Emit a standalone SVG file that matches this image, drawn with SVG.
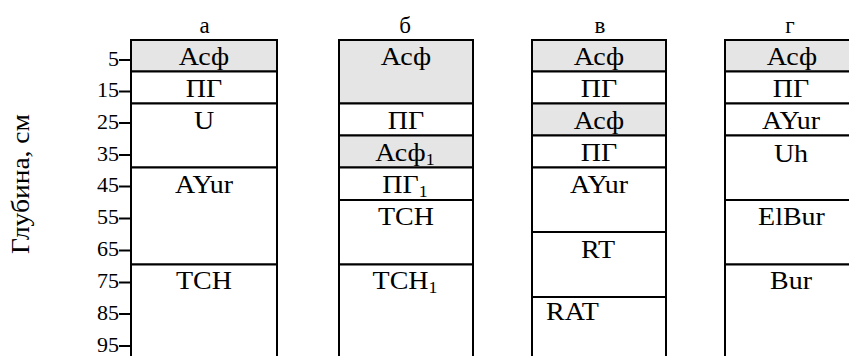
<svg xmlns="http://www.w3.org/2000/svg" width="849" height="356" viewBox="0 0 849 356">
<style>
.cell{stroke:#000;stroke-width:2;fill:#fff}
.sh{fill:#e5e5e5}
.t{font-family:"Liberation Serif","Times New Roman",serif;font-size:25px;fill:#000;text-anchor:middle}
.ts{text-anchor:start}
.hd{font-size:23px}
.num{font-family:"Liberation Serif","Times New Roman",serif;font-size:22px;fill:#000;text-anchor:end}
.tick{stroke:#000;stroke-width:2}
.sub{font-size:16px}
</style>
<rect width="849" height="356" fill="#fff"/>
<g id="axis">
<g transform="translate(29,184) rotate(-90) scale(1.1,1)"><text class="t" x="0" y="0">Глубина, см</text></g>
<g id="ticks">
<line class="tick" x1="119" y1="60" x2="131" y2="60"/>
<line class="tick" x1="119" y1="91.5" x2="131" y2="91.5"/>
<line class="tick" x1="119" y1="123" x2="131" y2="123"/>
<line class="tick" x1="119" y1="155" x2="131" y2="155"/>
<line class="tick" x1="119" y1="186.5" x2="131" y2="186.5"/>
<line class="tick" x1="119" y1="218.5" x2="131" y2="218.5"/>
<line class="tick" x1="119" y1="250.5" x2="131" y2="250.5"/>
<line class="tick" x1="119" y1="282.5" x2="131" y2="282.5"/>
<line class="tick" x1="119" y1="314" x2="131" y2="314"/>
<line class="tick" x1="119" y1="346" x2="131" y2="346"/>
</g>
<text class="num" x="119" y="65.5">5</text>
<text class="num" x="119" y="97">15</text>
<text class="num" x="119" y="128.5">25</text>
<text class="num" x="119" y="160.5">35</text>
<text class="num" x="119" y="192">45</text>
<text class="num" x="119" y="224">55</text>
<text class="num" x="119" y="256">65</text>
<text class="num" x="119" y="288">75</text>
<text class="num" x="119" y="319.5">85</text>
<text class="num" x="119" y="351.5">95</text>
</g>
<g id="col-a">
<text class="t hd" x="204.5" y="33">а</text>
<g id="a1"><rect class="cell sh" x="131" y="40" width="146" height="31.5"/><g transform="translate(204,64.5) scale(1.12,1)"><text class="t" x="0" y="0">Асф</text></g></g>
<g id="a2"><rect class="cell" x="131" y="71.5" width="146" height="32"/><g transform="translate(204,96.5) scale(1.12,1)"><text class="t" x="0" y="0">ПГ</text></g></g>
<g id="a3"><rect class="cell" x="131" y="103.5" width="146" height="64"/><g transform="translate(204,129) scale(1.12,1)"><text class="t" x="0" y="0">U</text></g></g>
<g id="a4"><rect class="cell" x="131" y="167.5" width="146" height="97"/><g transform="translate(204,193) scale(1.12,1)"><text class="t" x="0" y="0">AYur</text></g></g>
<g id="a5"><rect class="cell" x="131" y="264.5" width="146" height="100"/><g transform="translate(204,288.5) scale(1.12,1)"><text class="t" x="0" y="0">TCH</text></g></g>
</g>
<g id="col-b">
<text class="t hd" x="405" y="33">б</text>
<g id="b1"><rect class="cell sh" x="339" y="40" width="134" height="63.5"/><g transform="translate(406,64.5) scale(1.12,1)"><text class="t" x="0" y="0">Асф</text></g></g>
<g id="b2"><rect class="cell" x="339" y="103.5" width="134" height="32"/><g transform="translate(406,128.5) scale(1.12,1)"><text class="t" x="0" y="0">ПГ</text></g></g>
<g id="b3"><rect class="cell sh" x="339" y="135.5" width="134" height="32"/><g transform="translate(405,160.5) scale(1.12,1)"><text class="t" x="0" y="0">Асф<tspan class="sub" dy="4">1</tspan></text></g></g>
<g id="b4"><rect class="cell" x="339" y="167.5" width="134" height="32.5"/><g transform="translate(405,192.5) scale(1.12,1)"><text class="t" x="0" y="0">ПГ<tspan class="sub" dy="4">1</tspan></text></g></g>
<g id="b5"><rect class="cell" x="339" y="200" width="134" height="64.5"/><g transform="translate(406,225) scale(1.12,1)"><text class="t" x="0" y="0">TCH</text></g></g>
<g id="b6"><rect class="cell" x="339" y="264.5" width="134" height="100"/><g transform="translate(405,289) scale(1.12,1)"><text class="t" x="0" y="0">TCH<tspan class="sub" dy="4">1</tspan></text></g></g>
</g>
<g id="col-v">
<text class="t hd" x="600" y="33">в</text>
<g id="v1"><rect class="cell sh" x="532" y="40" width="134" height="31.5"/><g transform="translate(599,64.5) scale(1.12,1)"><text class="t" x="0" y="0">Асф</text></g></g>
<g id="v2"><rect class="cell" x="532" y="71.5" width="134" height="32"/><g transform="translate(599,96.5) scale(1.12,1)"><text class="t" x="0" y="0">ПГ</text></g></g>
<g id="v3"><rect class="cell sh" x="532" y="103.5" width="134" height="32"/><g transform="translate(599,128.5) scale(1.12,1)"><text class="t" x="0" y="0">Асф</text></g></g>
<g id="v4"><rect class="cell" x="532" y="135.5" width="134" height="32"/><g transform="translate(599,160.5) scale(1.12,1)"><text class="t" x="0" y="0">ПГ</text></g></g>
<g id="v5"><rect class="cell" x="532" y="167.5" width="134" height="64.5"/><g transform="translate(599,193) scale(1.12,1)"><text class="t" x="0" y="0">AYur</text></g></g>
<g id="v6"><rect class="cell" x="532" y="232" width="134" height="65"/><g transform="translate(598,257.5) scale(1.12,1)"><text class="t" x="0" y="0">RT</text></g></g>
<g id="v7"><rect class="cell" x="532" y="297" width="134" height="70"/><g transform="translate(546,319.5) scale(1.12,1)"><text class="t ts" x="0" y="0">RAT</text></g></g>
</g>
<g id="col-g">
<text class="t hd" x="790" y="33">г</text>
<g id="g1"><rect class="cell sh" x="725" y="40" width="134" height="31.5"/><g transform="translate(792,64.5) scale(1.12,1)"><text class="t" x="0" y="0">Асф</text></g></g>
<g id="g2"><rect class="cell" x="725" y="71.5" width="134" height="32"/><g transform="translate(791,96.5) scale(1.12,1)"><text class="t" x="0" y="0">ПГ</text></g></g>
<g id="g3"><rect class="cell" x="725" y="103.5" width="134" height="32"/><g transform="translate(791,128.5) scale(1.12,1)"><text class="t" x="0" y="0">AYur</text></g></g>
<g id="g4"><rect class="cell" x="725" y="135.5" width="134" height="64.5"/><g transform="translate(791,161.5) scale(1.12,1)"><text class="t" x="0" y="0">Uh</text></g></g>
<g id="g5"><rect class="cell" x="725" y="200" width="134" height="64.5"/><g transform="translate(791.5,225) scale(1.12,1)"><text class="t" x="0" y="0">ElBur</text></g></g>
<g id="g6"><rect class="cell" x="725" y="264.5" width="134" height="100"/><g transform="translate(791,289) scale(1.12,1)"><text class="t" x="0" y="0">Bur</text></g></g>
</g>
</svg>
